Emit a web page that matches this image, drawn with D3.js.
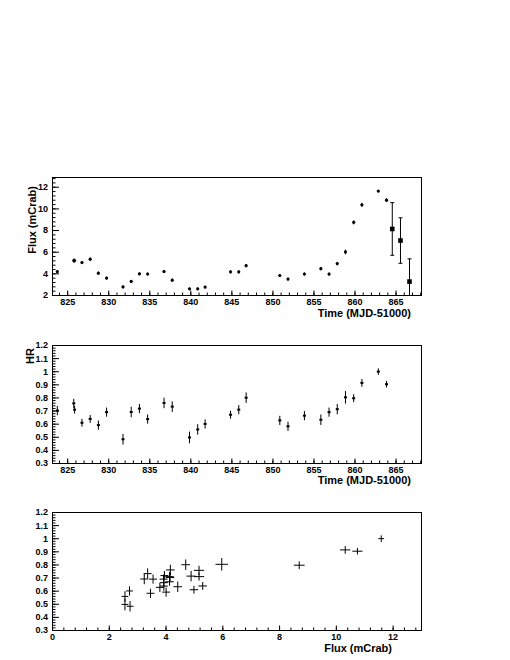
<!DOCTYPE html>
<html><head><meta charset="utf-8">
<script src="https://cdn.jsdelivr.net/npm/d3@7"></script>
<style>body{margin:0;background:#fff}svg{display:block}</style>
</head><body>
<script>
// ---- data ----
const time    = [823.8,825.8,825.9,826.8,827.8,828.8,829.8,831.8,832.8,833.8,834.8,836.8,837.8,839.9,840.9,841.8,844.9,845.9,846.8,850.9,851.9,853.9,855.9,856.9,857.9,858.9,859.9,860.9,862.9,863.9];
const flux    = [4.16,5.18,5.18,5.0,5.31,4.02,3.56,2.75,3.25,3.96,3.94,4.17,3.37,2.57,2.57,2.73,4.14,4.14,4.71,3.8,3.47,3.94,4.43,3.93,4.9,5.98,8.71,10.33,11.6,10.76];
const fluxErr = [0.15,0.18,0.18,0.15,0.15,0.14,0.14,0.12,0.14,0.14,0.14,0.15,0.14,0.12,0.12,0.12,0.15,0.15,0.15,0.14,0.14,0.14,0.15,0.14,0.16,0.22,0.19,0.18,0.1,0.18];
const hr      = [0.70,0.755,0.707,0.607,0.636,0.589,0.688,0.481,0.689,0.715,0.635,0.758,0.73,0.495,0.556,0.598,0.668,0.707,0.798,0.625,0.58,0.661,0.63,0.688,0.711,0.801,0.794,0.911,0.997,0.901];
const hrErr   = [0.035,0.035,0.03,0.03,0.03,0.035,0.035,0.04,0.04,0.035,0.035,0.04,0.04,0.045,0.04,0.035,0.03,0.035,0.04,0.035,0.035,0.035,0.04,0.035,0.04,0.048,0.03,0.03,0.025,0.025];
// late points (flux only, square markers)
const lateTime    = [864.6,865.6,866.7];
const lateFlux    = [8.1,7.03,3.24];
const lateFluxErr = [2.43,2.1,2.1];
// axis ticks
const timeTicks = [825,830,835,840,845,850,855,860,865];
const fluxTicks = [2,4,6,8,10,12];
const hrTicks   = [0.3,0.4,0.5,0.6,0.7,0.8,0.9,1,1.1,1.2];
const fluxXTicks = [0,2,4,6,8,10,12];

const W = 510, H = 660;
const FONT = "'Liberation Sans', Arial, Helvetica, sans-serif";
const svg = d3.select("body").append("svg").attr("width", W).attr("height", H);

const X0 = 52, X1 = 421;
const panels = [
  {top:177, bottom:295},
  {top:345, bottom:463},
  {top:512, bottom:630}
];

const xT  = d3.scaleLinear().domain([823.15, 868.1]).range([X0, X1]);
const xF  = d3.scaleLinear().domain([0, 13]).range([X0, X1]);
const y1  = d3.scaleLinear().domain([2, 12.9]).range([panels[0].bottom, panels[0].top]);
const y2  = d3.scaleLinear().domain([0.3, 1.2]).range([panels[1].bottom, panels[1].top]);
const y3  = d3.scaleLinear().domain([0.3, 1.2]).range([panels[2].bottom, panels[2].top]);

function range(a, b, s) { const r = []; for (let v = a; v <= b + 1e-9; v += s) r.push(+v.toFixed(4)); return r; }

function styleAxis(g) {
  g.select(".domain").remove();
  g.selectAll("line").attr("stroke", "#000").attr("stroke-width", 1);
  g.selectAll("text").attr("font-family", FONT).attr("font-size", 9).attr("font-weight", "bold").attr("fill", "#000");
}

function drawAxes(p, x, y, xMajor, xMinor, yMajor, yMinor, xFmt, yFmt) {
  const gx = svg.append("g").attr("transform", `translate(0,${p.bottom})`);
  gx.call(d3.axisBottom(x).tickValues(xMinor).tickSize(-2.5).tickFormat(""));
  styleAxis(gx);
  const gx2 = svg.append("g").attr("transform", `translate(0,${p.bottom})`);
  gx2.call(d3.axisBottom(x).tickValues(xMajor).tickSize(-4.5).tickPadding(4).tickFormat(xFmt));
  styleAxis(gx2);
  gx2.selectAll("text").attr("dy", "0.71em");
  const gy = svg.append("g").attr("transform", `translate(${X0},0)`);
  gy.call(d3.axisLeft(y).tickValues(yMinor).tickSize(-3.5).tickFormat(""));
  styleAxis(gy);
  const gy2 = svg.append("g").attr("transform", `translate(${X0},0)`);
  gy2.call(d3.axisLeft(y).tickValues(yMajor).tickSize(-7).tickPadding(4).tickFormat(yFmt));
  styleAxis(gy2);
  svg.append("rect").attr("x", X0 + 0.5).attr("y", p.top + 0.5)
    .attr("width", X1 - X0).attr("height", p.bottom - p.top)
    .attr("fill", "none").attr("stroke", "#000").attr("stroke-width", 1);
}

const fmtInt = d3.format("d");
const fmtHR = v => (Math.abs(v - 1) < 1e-6 ? "1" : d3.format(".1f")(v));

drawAxes(panels[0], xT, y1, timeTicks, range(824, 868, 1), fluxTicks, range(2, 12.8, 0.4), fmtInt, fmtInt);
drawAxes(panels[1], xT, y2, timeTicks, range(824, 868, 1), hrTicks, range(0.3, 1.2, 0.02), fmtInt, fmtHR);
drawAxes(panels[2], xF, y3, fluxXTicks, range(0, 12.8, 0.4), hrTicks, range(0.3, 1.2, 0.02), fmtInt, fmtHR);

function xTitle(text, xEnd, yBase) {
  svg.append("text").attr("x", xEnd).attr("y", yBase).attr("text-anchor", "end")
    .attr("font-family", FONT).attr("font-size", 11).attr("font-weight", "bold").text(text);
}
function yTitle(text, xBase, yEnd) {
  svg.append("text").attr("transform", `translate(${xBase},${yEnd}) rotate(-90)`).attr("text-anchor", "end")
    .attr("font-family", FONT).attr("font-size", 11).attr("font-weight", "bold").text(text);
}
xTitle("Time (MJD-51000)", 411, panels[0].bottom + 21.5);
xTitle("Time (MJD-51000)", 411, panels[1].bottom + 21);
xTitle("Flux (mCrab)", 392, panels[2].bottom + 22);
yTitle("Flux (mCrab)", 35.5, 186);
yTitle("HR", 34, 348);

function clipFor(p, id) {
  svg.append("clipPath").attr("id", id).append("rect")
    .attr("x", X0).attr("y", p.top).attr("width", X1 - X0 + 1).attr("height", p.bottom - p.top + 1);
  return svg.append("g").attr("clip-path", `url(#${id})`);
}

// ---- panel 1: flux light curve ----
const g1 = clipFor(panels[0], "c1");
time.forEach((t, i) => {
  g1.append("line").attr("x1", xT(t)).attr("x2", xT(t))
    .attr("y1", y1(flux[i] - fluxErr[i])).attr("y2", y1(flux[i] + fluxErr[i]))
    .attr("stroke", "#000").attr("stroke-width", 1);
  g1.append("circle").attr("cx", xT(t)).attr("cy", y1(flux[i])).attr("r", 1.6).attr("fill", "#000");
});
lateTime.forEach((t, i) => {
  g1.append("line").attr("x1", xT(t)).attr("x2", xT(t))
    .attr("y1", y1(lateFlux[i] - lateFluxErr[i])).attr("y2", y1(lateFlux[i] + lateFluxErr[i]))
    .attr("stroke", "#000").attr("stroke-width", 1);
  [-1, 1].forEach(s => {
    const yy = y1(lateFlux[i] + s * lateFluxErr[i]);
    g1.append("line").attr("x1", xT(t) - 2).attr("x2", xT(t) + 2).attr("y1", yy).attr("y2", yy)
      .attr("stroke", "#000").attr("stroke-width", 1);
  });
  g1.append("rect").attr("x", xT(t) - 2.3).attr("y", y1(lateFlux[i]) - 2.3)
    .attr("width", 4.6).attr("height", 4.6).attr("fill", "#000");
});

// ---- panel 2: HR vs time ----
const g2 = clipFor(panels[1], "c2");
time.forEach((t, i) => {
  g2.append("line").attr("x1", xT(t)).attr("x2", xT(t))
    .attr("y1", y2(hr[i] - hrErr[i])).attr("y2", y2(hr[i] + hrErr[i]))
    .attr("stroke", "#000").attr("stroke-width", 1);
  g2.append("rect").attr("x", xT(t) - 1.5).attr("y", y2(hr[i]) - 1)
    .attr("width", 3).attr("height", 2).attr("fill", "#000");
});

// ---- panel 3: HR vs flux ----
const g3 = clipFor(panels[2], "c3");
flux.forEach((f, i) => {
  g3.append("line").attr("x1", xF(f - fluxErr[i])).attr("x2", xF(f + fluxErr[i]))
    .attr("y1", y3(hr[i])).attr("y2", y3(hr[i]))
    .attr("stroke", "#000").attr("stroke-width", 1);
  g3.append("line").attr("x1", xF(f)).attr("x2", xF(f))
    .attr("y1", y3(hr[i] - hrErr[i])).attr("y2", y3(hr[i] + hrErr[i]))
    .attr("stroke", "#000").attr("stroke-width", 1);
});
</script>
</body></html>
